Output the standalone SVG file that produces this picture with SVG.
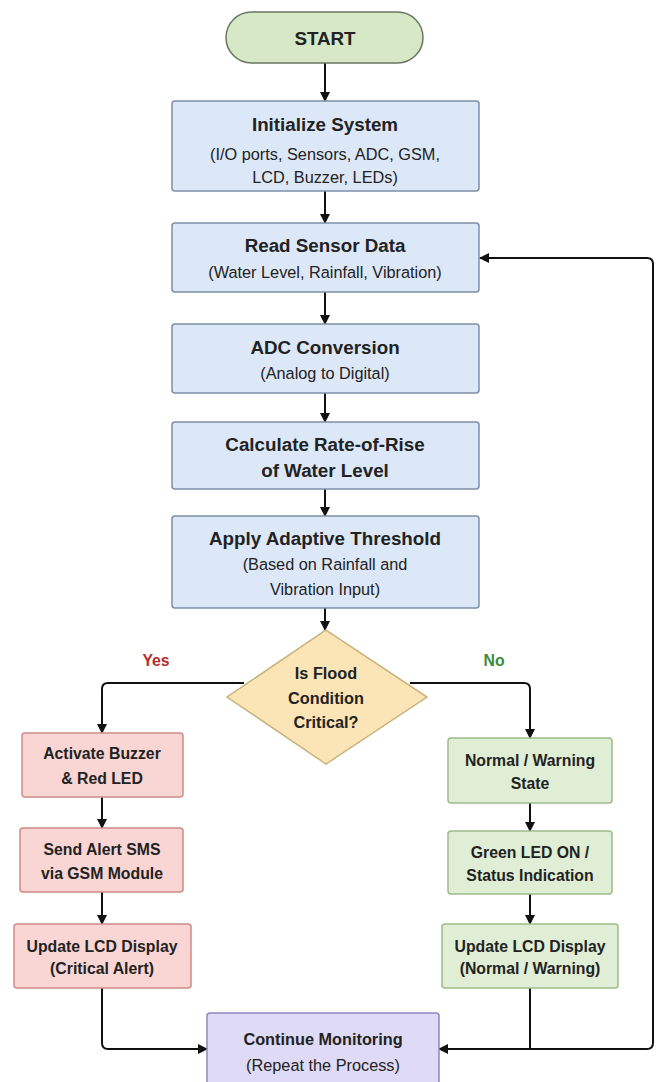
<svg xmlns="http://www.w3.org/2000/svg" width="662" height="1082" viewBox="0 0 662 1082">
<defs>
<marker id="arr" viewBox="0 0 10 10" refX="9" refY="5" markerWidth="10" markerHeight="10" markerUnits="userSpaceOnUse" orient="auto">
<path d="M0,0 L10,5 L0,10 z" fill="#111"/>
</marker>
<style>
text{font-family:"Liberation Sans",Arial,sans-serif;fill:#222;text-anchor:middle}
.h{font-size:18.8px;font-weight:bold}
.s{font-size:16.3px}
.b{font-size:15.8px;font-weight:bold}
.d{font-size:16.3px;font-weight:bold}
.blue{fill:#dce8f8;stroke:#7d8ea6;stroke-width:1.5}
.red{fill:#f9d6d4;stroke:#cf8b88;stroke-width:1.5}
.green{fill:#e0eed6;stroke:#9dbb8a;stroke-width:1.5}
.purple{fill:#dfdaf5;stroke:#8f87c4;stroke-width:1.5}
.c{fill:none;stroke:#111;stroke-width:2;marker-end:url(#arr)}
.l{fill:none;stroke:#111;stroke-width:2}
</style>
</defs>
<rect width="662" height="1082" fill="#ffffff"/>
<g id="connectors">
<path class="c" d="M325 63 V101"/>
<path class="c" d="M325 191 V223"/>
<path class="c" d="M325 292 V324"/>
<path class="c" d="M325 393 V422"/>
<path class="c" d="M325 489 V516"/>
<path class="c" d="M325 608 V630"/>
<path class="c" d="M244 683 H108 Q102 683 102 689 V733"/>
<path class="c" d="M410 683 H524 Q530 683 530 689 V738"/>
<path class="c" d="M102 797 V828"/>
<path class="c" d="M102 892 V924"/>
<path class="c" d="M530 803 V831"/>
<path class="c" d="M530 894 V924"/>
<path class="c" d="M102 988 V1043 Q102 1049 108 1049 H207"/>
<path class="l" d="M530 988 V1049"/>
<path class="c" d="M530 1049 H439"/>
<path class="c" d="M530 1049 H647 Q653 1049 653 1043 V264 Q653 258 647 258 H480"/>
</g>
<g id="start">
<rect x="226" y="12" width="197" height="51" rx="25.5" fill="#d7e8c6" stroke="#6a7560" stroke-width="1.5"/>
<text class="h" x="325" y="38" dy="0.35em">START</text>
</g>
<g id="init">
<rect class="blue" x="172" y="101" width="307" height="90" rx="3"/>
<text class="h" x="325" y="124" dy="0.35em">Initialize System</text>
<text class="s" x="325" y="154" dy="0.35em">(I/O ports, Sensors, ADC, GSM,</text>
<text class="s" x="325" y="177" dy="0.35em">LCD, Buzzer, LEDs)</text>
</g>
<g id="read">
<rect class="blue" x="172" y="223" width="307" height="69" rx="3"/>
<text class="h" x="325" y="245" dy="0.35em">Read Sensor Data</text>
<text class="s" x="325" y="272" dy="0.35em">(Water Level, Rainfall, Vibration)</text>
</g>
<g id="adc">
<rect class="blue" x="172" y="324" width="307" height="69" rx="3"/>
<text class="h" x="325" y="347" dy="0.35em">ADC Conversion</text>
<text class="s" x="325" y="373" dy="0.35em">(Analog to Digital)</text>
</g>
<g id="calc">
<rect class="blue" x="172" y="422" width="307" height="67" rx="3"/>
<text class="h" x="325" y="444" dy="0.35em">Calculate Rate-of-Rise</text>
<text class="h" x="325" y="470" dy="0.35em">of Water Level</text>
</g>
<g id="apply">
<rect class="blue" x="172" y="516" width="307" height="92" rx="3"/>
<text class="h" x="325" y="538" dy="0.35em">Apply Adaptive Threshold</text>
<text class="s" x="325" y="564" dy="0.35em">(Based on Rainfall and</text>
<text class="s" x="325" y="589" dy="0.35em">Vibration Input)</text>
</g>
<g id="decision">
<path d="M326 630 L427 697 L326 764 L227 697 Z" fill="#fbe5b6" stroke="#c8b27c" stroke-width="1.5"/>
<text class="d" x="326" y="673" dy="0.35em">Is Flood</text>
<text class="d" x="326" y="698" dy="0.35em">Condition</text>
<text class="d" x="326" y="722" dy="0.35em">Critical?</text>
</g>
<g id="labels">
<text class="b" x="156" y="660" dy="0.35em" style="fill:#b0302c">Yes</text>
<text class="b" x="494" y="660" dy="0.35em" style="fill:#3d8a3a">No</text>
</g>
<g id="buzzer">
<rect class="red" x="22" y="733" width="161" height="64" rx="3"/>
<text class="b" x="102" y="753" dy="0.35em">Activate Buzzer</text>
<text class="b" x="102" y="778" dy="0.35em">&amp; Red LED</text>
</g>
<g id="sms">
<rect class="red" x="20" y="828" width="163" height="64" rx="3"/>
<text class="b" x="102" y="849" dy="0.35em">Send Alert SMS</text>
<text class="b" x="102" y="873" dy="0.35em">via GSM Module</text>
</g>
<g id="lcd-critical">
<rect class="red" x="14" y="924" width="177" height="64" rx="3"/>
<text class="b" x="102" y="946" dy="0.35em">Update LCD Display</text>
<text class="b" x="102" y="968" dy="0.35em">(Critical Alert)</text>
</g>
<g id="normal">
<rect class="green" x="448" y="738" width="164" height="65" rx="3"/>
<text class="b" x="530" y="760" dy="0.35em">Normal / Warning</text>
<text class="b" x="530" y="783" dy="0.35em">State</text>
</g>
<g id="green-led">
<rect class="green" x="448" y="831" width="164" height="63" rx="3"/>
<text class="b" x="530" y="852" dy="0.35em">Green LED ON /</text>
<text class="b" x="530" y="875" dy="0.35em">Status Indication</text>
</g>
<g id="lcd-normal">
<rect class="green" x="442" y="924" width="176" height="64" rx="3"/>
<text class="b" x="530" y="946" dy="0.35em">Update LCD Display</text>
<text class="b" x="530" y="968" dy="0.35em">(Normal / Warning)</text>
</g>
<g id="continue">
<rect class="purple" x="207" y="1013" width="232" height="72" rx="3"/>
<text class="d" x="323" y="1039" dy="0.35em">Continue Monitoring</text>
<text class="s" x="323" y="1065" dy="0.35em">(Repeat the Process)</text>
</g>
</svg>
